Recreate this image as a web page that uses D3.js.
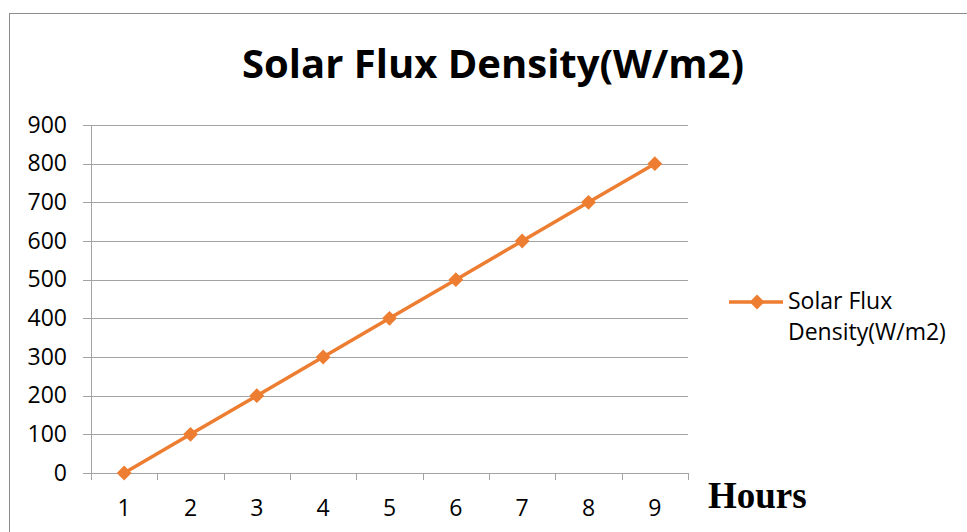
<!DOCTYPE html>
<html>
<head>
<meta charset="utf-8">
<script src="https://cdn.jsdelivr.net/npm/d3@7"></script>
<style>
  body { margin: 0; background: #fff; }
  svg { display: block; }
</style>
</head>
<body>
<svg id="chart" width="967" height="532"></svg>
<script>
// data
var hours = ["1", "2", "3", "4", "5", "6", "7", "8", "9"];
var flux = [0, 100, 200, 300, 400, 500, 600, 700, 800];
var yTicks = [0, 100, 200, 300, 400, 500, 600, 700, 800, 900];
var seriesName = "Solar Flux Density(W/m2)";
var legendLines = ["Solar Flux", "Density(W/m2)"];

var svg = d3.select("#chart"),
  width = +svg.attr("width"),
  height = +svg.attr("height");

var orange = "#ED7D31",
  grid = "#A3A3A3",
  font = "'Open Sans', sans-serif";

// chart frame, runs off the right/bottom of the picture
svg.append("rect")
  .attr("x", 9.5).attr("y", 13.5)
  .attr("width", 1000).attr("height", 600)
  .attr("fill", "#fff")
  .attr("stroke", "#8C8C8C")
  .attr("stroke-width", 1);

var plot = { left: 91, right: 688, top: 125, bottom: 473 };

var x = d3.scaleBand()
  .domain(hours)
  .range([plot.left, plot.right])
  .padding(0);

var y = d3.scaleLinear()
  .domain([0, 900])
  .range([plot.bottom, plot.top]);

// gridlines (include the little tick stub left of the axis)
svg.append("g")
  .selectAll("line")
  .data(yTicks)
  .enter().append("line")
  .attr("x1", plot.left - 8)
  .attr("x2", plot.right)
  .attr("y1", d => Math.round(y(d)) + 0.5)
  .attr("y2", d => Math.round(y(d)) + 0.5)
  .attr("stroke", grid)
  .attr("stroke-width", 1);

// vertical axis line
svg.append("line")
  .attr("x1", plot.left + 0.5).attr("x2", plot.left + 0.5)
  .attr("y1", plot.top).attr("y2", plot.bottom + 7)
  .attr("stroke", grid);

// x tick marks at category boundaries
var edges = hours.map(d => x(d)).concat([x.range()[1]]);
svg.append("g")
  .selectAll("line")
  .data(edges)
  .enter().append("line")
  .attr("x1", d => Math.round(d) + 0.5)
  .attr("x2", d => Math.round(d) + 0.5)
  .attr("y1", plot.bottom)
  .attr("y2", plot.bottom + 7)
  .attr("stroke", grid);

// y labels
svg.append("g")
  .selectAll("text")
  .data(yTicks)
  .enter().append("text")
  .attr("x", 67)
  .attr("y", d => y(d))
  .attr("dy", "0.34em")
  .attr("text-anchor", "end")
  .attr("font-family", font)
  .attr("font-size", 23)
  .attr("fill", "#000")
  .text(d => d);

// x labels
svg.append("g")
  .selectAll("text")
  .data(hours)
  .enter().append("text")
  .attr("x", d => x(d) + x.bandwidth() / 2)
  .attr("y", 516)
  .attr("text-anchor", "middle")
  .attr("font-family", font)
  .attr("font-size", 23)
  .attr("fill", "#000")
  .text(d => d);

// series line
var pts = hours.map((h, i) => [x(h) + x.bandwidth() / 2, y(flux[i])]);
svg.append("path")
  .attr("d", d3.line()(pts))
  .attr("fill", "none")
  .attr("stroke", orange)
  .attr("stroke-width", 3.5)
  .attr("stroke-linejoin", "round");

var diamond = d3.symbol().type(d3.symbolDiamond2).size(140);
svg.append("g")
  .selectAll("path")
  .data(pts)
  .enter().append("path")
  .attr("transform", d => "translate(" + d[0] + "," + d[1] + ")")
  .attr("d", diamond)
  .attr("fill", orange);

// title
svg.append("text")
  .attr("x", 493)
  .attr("y", 78)
  .attr("text-anchor", "middle")
  .attr("font-family", font)
  .attr("font-weight", "bold")
  .attr("font-size", 40)
  .attr("fill", "#000")
  .text(seriesName);

// x axis title
svg.append("text")
  .attr("x", 708)
  .attr("y", 508)
  .attr("font-family", "'Liberation Serif', 'Times New Roman', serif")
  .attr("font-weight", "bold")
  .attr("font-size", 37)
  .attr("fill", "#000")
  .text("Hours");

// legend
var lg = svg.append("g");
lg.append("line")
  .attr("x1", 729).attr("x2", 783)
  .attr("y1", 302).attr("y2", 302)
  .attr("stroke", orange)
  .attr("stroke-width", 3.5);
lg.append("path")
  .attr("transform", "translate(757,302)")
  .attr("d", diamond)
  .attr("fill", orange);
lg.selectAll("text")
  .data(legendLines)
  .enter().append("text")
  .attr("x", 788)
  .attr("y", (d, i) => 309 + i * 31)
  .attr("font-family", font)
  .attr("font-size", 23)
  .attr("fill", "#000")
  .text(d => d);
</script>
</body>
</html>
